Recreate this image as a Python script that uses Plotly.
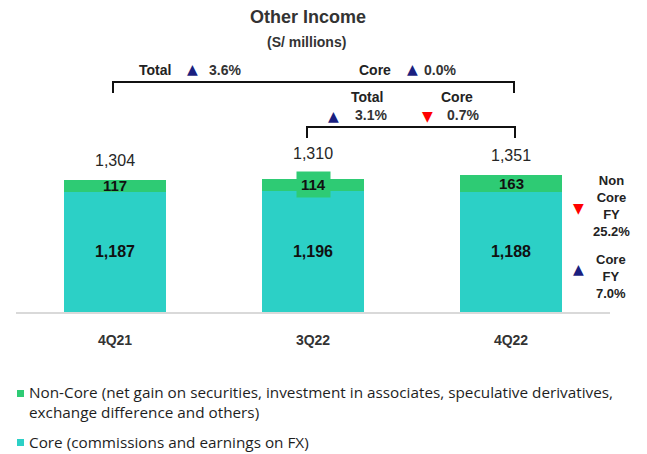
import plotly.graph_objects as go

# ---- data ----
categories = ["4Q21", "3Q22", "4Q22"]
core = [1187, 1196, 1188]
non_core = [117, 114, 163]
totals = [1304, 1310, 1351]

yoy_total = "3.6%"
yoy_core = "0.0%"
qoq_total = "3.1%"
qoq_core = "0.7%"
fy_non_core = "25.2%"
fy_core = "7.0%"

legend_non_core = "Non-Core (net gain on securities, investment in associates, speculative derivatives,<br>exchange difference and others)"
legend_core = "Core (commissions and earnings on FX)"

# ---- styles ----
TEAL = "#2CD0C6"
GREEN = "#2ECB74"
NAVY = "#1A1F80"
RED = "#FF0000"
FONT = "Liberation Sans, Arial, sans-serif"
TRI_FONT = "DejaVu Sans, sans-serif"
OFF = 8  # page body margin
PAGE_W, PAGE_H = 647, 454
W, H = PAGE_W - OFF, PAGE_H - OFF
# plot area in page pixels
PX0, PX1, PY0, PY1 = 16, 610, 10, 312
L, R, T, B = PX0 - OFF, W - (PX1 - OFF), PY0 - OFF, H - (PY1 - OFF)
PW, PH = W - L - R, H - T - B


def X(px):
    return (px - PX0) / PW


def Y(py):
    return (PY1 - py) / PH


fig = go.Figure()
fig.add_trace(go.Bar(
    x=categories, y=core, name="Core", marker=dict(color=TEAL, line=dict(width=0)),
    texttemplate="%{y:,.0f}", textposition="inside", insidetextanchor="middle",
    textfont=dict(family=FONT, size=16, color="#111111", weight="bold"),
))
fig.add_trace(go.Bar(
    x=categories, y=non_core, name="Non-Core", marker=dict(color=GREEN, line=dict(width=0)),
    textposition="none",
))

ann = []
for i, c in enumerate(categories):
    ann.append(dict(x=c, y=totals[i], xref="x", yref="y", yanchor="bottom",
                    yshift=(9 if i != 1 else 15), showarrow=False,
                    text=f"{totals[i]:,}",
                    font=dict(family=FONT, size=16, color="#262626")))
    nc = dict(x=c, y=core[i] + non_core[i] / 2, xref="x", yref="y", showarrow=False,
              text=f"<b>{non_core[i]:,}</b>", font=dict(family=FONT, size=15, color="#111111"))
    if i == 1:
        nc.update(bgcolor=GREEN, borderpad=4, yshift=1)
    ann.append(nc)


def txt(px, py, text, size=14, color="#222222", xanchor="center", family=FONT, align="center"):
    ann.append(dict(x=X(px), y=Y(py), xref="paper", yref="paper", showarrow=False,
                    text=text, xanchor=xanchor, yanchor="middle", align=align,
                    font=dict(family=family, size=size, color=color)))


def tri(px, py, up=True):
    txt(px, py, "▲" if up else "▼", size=14, color=NAVY if up else RED, family=TRI_FONT)


txt(308, 17, "<b>Other Income</b>", size=18, color="#333333")
txt(306, 42, "<b>(S/ millions)</b>", size=14, color="#333333")

txt(155, 70, "<b>Total</b>")
tri(193, 69, True)
txt(225, 70, "<b>" + yoy_total + "</b>", color="#333333")
txt(375, 70, "<b>Core</b>")
tri(412, 69, True)
txt(440, 70, "<b>" + yoy_core + "</b>", color="#333333")

txt(367, 97, "<b>Total</b>")
tri(333, 116, True)
txt(371, 115, "<b>" + qoq_total + "</b>", color="#333333")
txt(457, 97, "<b>Core</b>")
tri(428, 116, False)
txt(463, 115, "<b>" + qoq_core + "</b>", color="#333333")

txt(611, 206, "<b>Non<br>Core<br>FY<br>" + fy_non_core + "</b>", size=13, color="#222222")
tri(578, 208, False)
txt(611, 276, "<b>Core<br>FY<br>" + fy_core + "</b>", size=13, color="#222222")
tri(578, 269, True)

LEG_FONT = "Open Sans, Lato, sans-serif"
txt(27, 402, legend_non_core, size=15.3, color="#1E1E1E", xanchor="left", family=LEG_FONT, align="left")
txt(27, 442, legend_core, size=15.3, color="#1E1E1E", xanchor="left", family=LEG_FONT, align="left")

shapes = [
    dict(type="path", xref="paper", yref="paper",
         path=f"M {X(113)},{Y(93)} L {X(113)},{Y(82)} L {X(514)},{Y(82)} L {X(514)},{Y(93)}",
         line=dict(color="#111111", width=2)),
    dict(type="path", xref="paper", yref="paper",
         path=f"M {X(307)},{Y(138)} L {X(307)},{Y(127)} L {X(515)},{Y(127)} L {X(515)},{Y(138)}",
         line=dict(color="#111111", width=2)),
    dict(type="rect", xref="paper", yref="paper", x0=X(17), x1=X(24), y0=Y(390), y1=Y(397),
         fillcolor=GREEN, line=dict(width=0)),
    dict(type="rect", xref="paper", yref="paper", x0=X(17), x1=X(24), y0=Y(439), y1=Y(446),
         fillcolor=TEAL, line=dict(width=0)),
]

fig.update_layout(
    width=W, height=H,
    margin=dict(l=L, r=R, t=T, b=B),
    barmode="stack", bargap=0.48,
    showlegend=False,
    plot_bgcolor="white", paper_bgcolor="white",
    annotations=ann, shapes=shapes,
    font=dict(family=FONT),
    xaxis=dict(showline=True, linecolor="#D9D9D9", linewidth=1.5, showgrid=False,
               ticks="", ticklabelstandoff=14,
               tickfont=dict(family=FONT, size=14, color="#333333", weight="bold")),
    yaxis=dict(visible=False, range=[0, PH / 0.1012]),
)

fig.write_html("out.html")
